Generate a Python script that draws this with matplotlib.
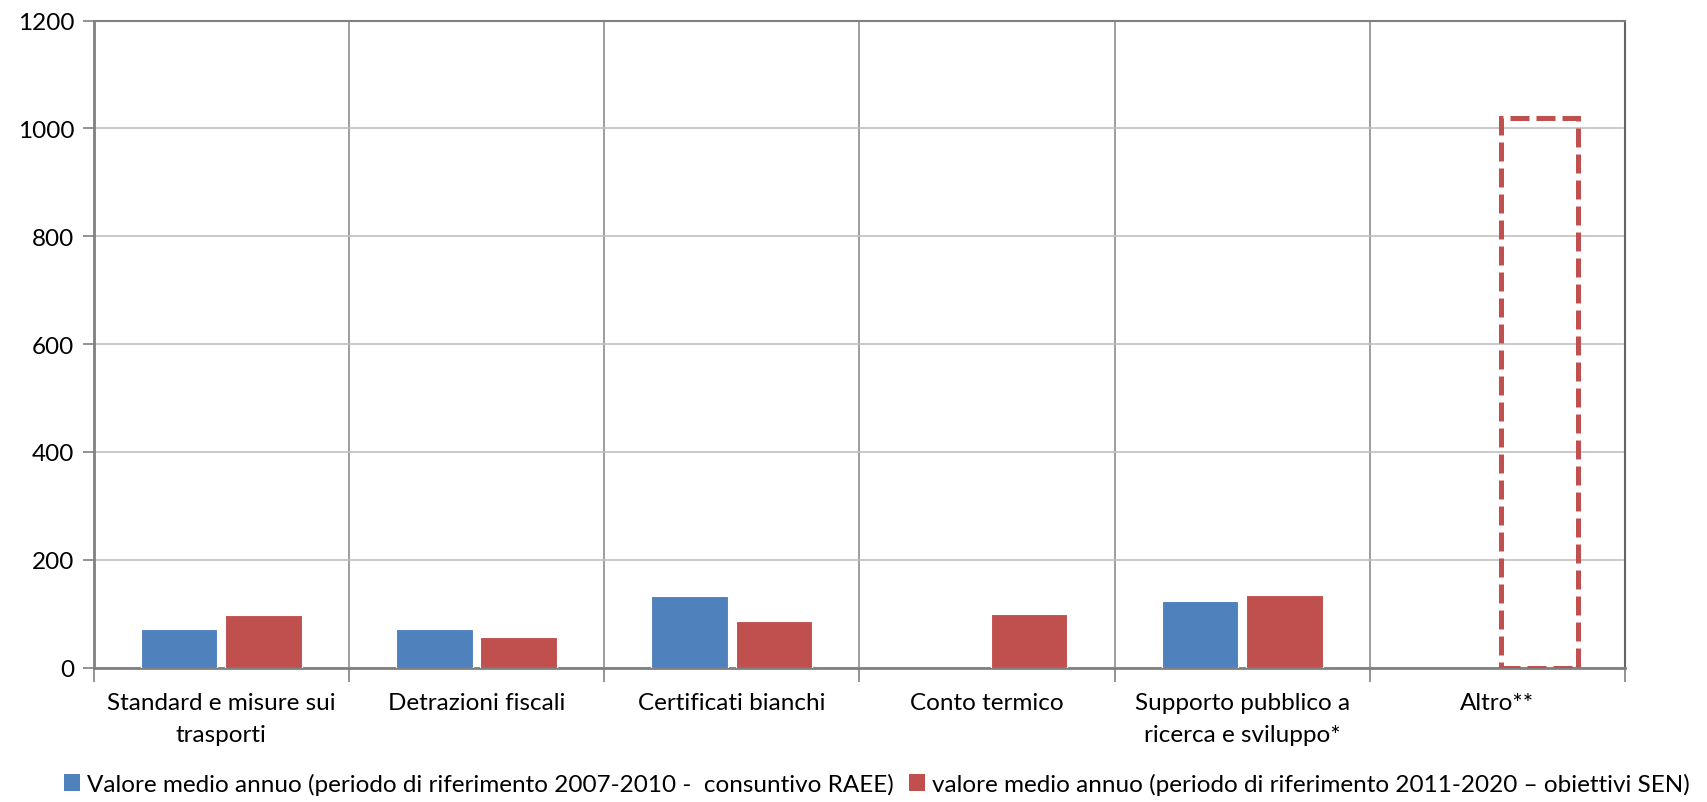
import numpy as np
import matplotlib
matplotlib.use("Agg")
import matplotlib.pyplot as plt
from matplotlib.patches import Patch

plt.rcParams['font.family'] = ['Lato', 'DejaVu Sans']

categories = ["Standard e misure sui\ntrasporti", "Detrazioni fiscali",
              "Certificati bianchi", "Conto termico",
              "Supporto pubblico a\nricerca e sviluppo*", "Altro**"]
valori_2007_2010 = [72, 72, 132, np.nan, 123, np.nan]
valori_2011_2020 = [97, 57, 86, 99, 135, 1020]
serie_labels = ["Valore medio annuo (periodo di riferimento 2007-2010 -  consuntivo RAEE)",
                "valore medio annuo (periodo di riferimento 2011-2020 \u2013 obiettivi SEN)"]
y_ticks = [0, 200, 400, 600, 800, 1000, 1200]

BLUE = "#4F81BD"
RED = "#C0504D"

fig = plt.figure(figsize=(17.08, 8.03), dpi=100)
ax = fig.add_axes([93.7 / 1708, 1 - 668.5 / 803, (1625 - 93.7) / 1708, (668.5 - 21.5) / 803])

x = np.arange(len(categories)) + 0.5
w = 0.3
b1 = ax.bar(x - 0.165, valori_2007_2010, width=w, color=BLUE, edgecolor="white",
            linewidth=0.8, zorder=3)
b2 = ax.bar(x + 0.165, valori_2011_2020, width=w, color=RED, edgecolor="white",
            linewidth=0.8, zorder=3)

# The "Altro" estimate is shown as an empty dashed outline
altro = b2.patches[-1]
altro.set_facecolor("none")
altro.set_edgecolor(RED)
altro.set_linewidth(3.6)
altro.set_linestyle((0, (3.8, 1.4)))
altro.set_zorder(4)

ax.set_xlim(0, len(categories))
ax.set_ylim(0, 1200)
ax.set_yticks(y_ticks)
ax.set_yticklabels([str(v) for v in y_ticks], fontsize=17.5)

# category boundaries carry ticks and vertical gridlines; labels sit at centres
ax.set_xticks(np.arange(len(categories) + 1))
ax.set_xticklabels([])
ax.set_xticks(x, minor=True)
ax.set_xticklabels(categories, minor=True, fontsize=17.5, linespacing=1.62)
ax.tick_params(axis="x", which="minor", length=0, pad=18)
ax.tick_params(axis="x", which="major", length=10, width=1.2, color="#808080")
ax.tick_params(axis="y", length=8, width=1.2, color="#808080", pad=6)

ax.grid(axis="y", color="#c0c0c0", linewidth=1.2, zorder=0)
ax.grid(axis="x", which="major", color="#8c8c8c", linewidth=1.2, zorder=0)
ax.set_axisbelow(True)

for side in ["left", "bottom"]:
    ax.spines[side].set_color("#808080")
    ax.spines[side].set_linewidth(2)
ax.spines["top"].set_color("#808080")
ax.spines["top"].set_linewidth(1.5)
ax.spines["right"].set_color("#666666")
ax.spines["right"].set_linewidth(1.5)

handles = [Patch(facecolor=BLUE, edgecolor="none"), Patch(facecolor=RED, edgecolor="none")]
fig.legend(handles, serie_labels, loc="center", bbox_to_anchor=(877 / 1708, 1 - 785 / 803),
           ncol=2, frameon=False, fontsize=17.5, handlelength=0.65, handleheight=0.65,
           handletextpad=0.3, columnspacing=0.6, borderaxespad=0)

fig.savefig("out.png", dpi=100)
